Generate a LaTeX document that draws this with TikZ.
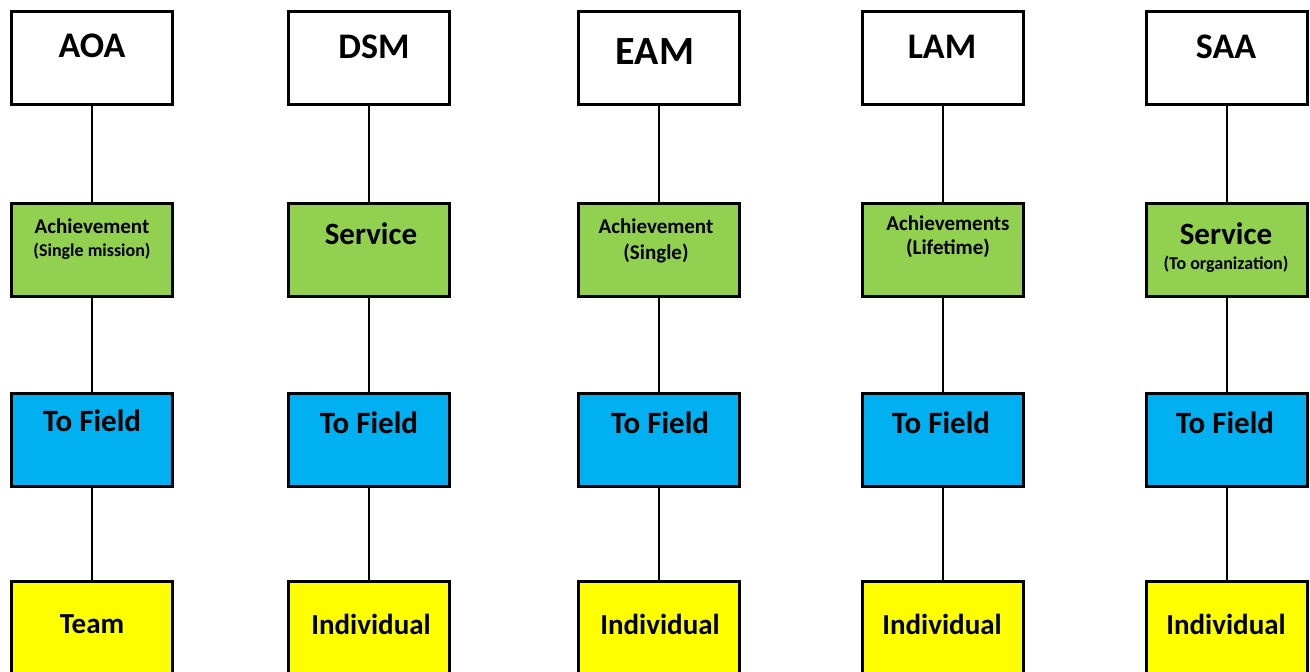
\documentclass[tikz,border=0pt]{standalone}
\usepackage{fontspec}
\setmainfont{Carlito}
\newcommand{\sz}[1]{\fontsize{#1}{#1}\selectfont}
\definecolor{kindgreen}{HTML}{92D050}
\definecolor{fieldblue}{HTML}{00B0F0}
\definecolor{unityellow}{HTML}{FFFF00}
\tikzset{
	box/.style={draw, line width=3pt, minimum width=161pt, minimum height=93pt, inner sep=0pt, outer sep=0pt},
	award/.style={box, fill=white},
	kind/.style={box, fill=kindgreen},
	field/.style={box, fill=fieldblue},
	unit/.style={box, fill=unityellow},
	txt/.style={font=\bfseries, inner sep=0pt, align=center},
	link/.style={line width=2pt}
}

\begin{document}
\begin{tikzpicture}[x=1pt,y=-1pt]
				\fill[white] (0,0) rectangle (1310,672);
				\useasboundingbox (0,0) rectangle (1310,672);
				% boxes
				\node[award] (aoa) at (92,58) {};
				\node[award] (dsm) at (369,58) {};
				\node[award] (eam) at (659,58) {};
				\node[award] (lam) at (942.5,58) {};
				\node[award] (saa) at (1227,58) {};
				\node[kind] (aoa-k) at (92,250) {};
				\node[kind] (dsm-k) at (369,250) {};
				\node[kind] (eam-k) at (659,250) {};
				\node[kind] (lam-k) at (942.5,250) {};
				\node[kind] (saa-k) at (1227,250) {};
				\node[field] (aoa-f) at (92,440) {};
				\node[field] (dsm-f) at (369,440) {};
				\node[field] (eam-f) at (659,440) {};
				\node[field] (lam-f) at (942.5,440) {};
				\node[field] (saa-f) at (1227,440) {};
				\node[unit] (aoa-u) at (92,628) {};
				\node[unit] (dsm-u) at (369,628) {};
				\node[unit] (eam-u) at (659,628) {};
				\node[unit] (lam-u) at (942.5,628) {};
				\node[unit] (saa-u) at (1227,628) {};
				% texts
				\node[txt,font=\bfseries\sz{36}] (aoa-t) at (92,46) {AOA};
				\node[txt,font=\bfseries\sz{36}] (dsm-t) at (374,47) {DSM};
				\node[txt,font=\bfseries\sz{40}] (eam-t) at (655,52) {EAM};
				\node[txt,font=\bfseries\sz{36}] (lam-t) at (942,47) {LAM};
				\node[txt,font=\bfseries\sz{36}] (saa-t) at (1226,47) {SAA};
				\node[txt,font=\bfseries\sz{21}] (aoa-k1) at (92,226) {Achievement};
				\node[txt,font=\bfseries\sz{18}] (aoa-k2) at (92,251) {(Single mission)};
				\node[txt,font=\bfseries\sz{31}] (dsm-k1) at (371,234) {Service};
				\node[txt,font=\bfseries\sz{21}] (eam-k1) at (656,226) {Achievement};
				\node[txt,font=\bfseries\sz{21}] (eam-k2) at (656,253) {(Single)};
				\node[txt,font=\bfseries\sz{21}] (lam-k1) at (948,223) {Achievements};
				\node[txt,font=\bfseries\sz{21}] (lam-k2) at (948,248) {(Lifetime)};
				\node[txt,font=\bfseries\sz{31}] (saa-k1) at (1226,234) {Service};
				\node[txt,font=\bfseries\sz{18}] (saa-k2) at (1226,264) {(To organization)};
				\node[txt,font=\bfseries\sz{31}] (aoa-ft) at (92,421) {To Field};
				\node[txt,font=\bfseries\sz{31}] (dsm-ft) at (369,423) {To Field};
				\node[txt,font=\bfseries\sz{31}] (eam-ft) at (660,423) {To Field};
				\node[txt,font=\bfseries\sz{31}] (lam-ft) at (941,423) {To Field};
				\node[txt,font=\bfseries\sz{31}] (saa-ft) at (1225,423) {To Field};
				\node[txt,font=\bfseries\sz{29}] (aoa-ut) at (92,624) {Team};
				\node[txt,font=\bfseries\sz{29}] (dsm-ut) at (371,624) {Individual};
				\node[txt,font=\bfseries\sz{29}] (eam-ut) at (660,624) {Individual};
				\node[txt,font=\bfseries\sz{29}] (lam-ut) at (942,624) {Individual};
				\node[txt,font=\bfseries\sz{29}] (saa-ut) at (1226,624) {Individual};
				% links
				\path[link]
				(aoa) edge (aoa-k) (aoa-k) edge (aoa-f) (aoa-f) edge (aoa-u)
				(dsm) edge (dsm-k) (dsm-k) edge (dsm-f) (dsm-f) edge (dsm-u)
				(eam) edge (eam-k) (eam-k) edge (eam-f) (eam-f) edge (eam-u)
				(lam) edge (lam-k) (lam-k) edge (lam-f) (lam-f) edge (lam-u)
				(saa) edge (saa-k) (saa-k) edge (saa-f) (saa-f) edge (saa-u);
			\end{tikzpicture}
\end{document}
